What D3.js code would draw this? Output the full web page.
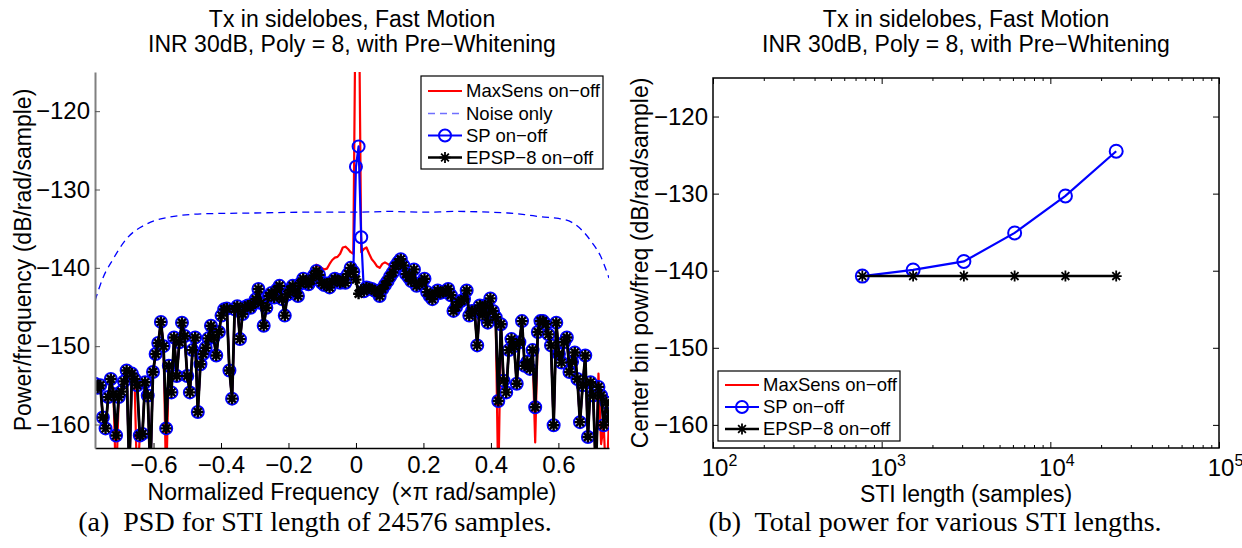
<!DOCTYPE html>
<html>
<head>
<meta charset="utf-8">
<script src="https://cdn.jsdelivr.net/npm/d3@7"></script>
<style>
  body { margin: 0; background: #fff; }
  svg { background: #fff; }
  text { font-family: "Liberation Sans", Arial, sans-serif; fill: #000; white-space: pre; }
  .caption { font-family: "Liberation Serif", "Times New Roman", serif; }
</style>
</head>
<body>
<div id="chart"></div>
<script>
// ---- panel (a): PSD, 256-point grid, bins -99 .. 96 shown ----
var nfft = 256;
var psdFirstBin = -99;

var maxSensPsd = [
  -154.8, -155.3, -155.0, -159.1, -160.5, -156.5, -154.2, -156.1, -168.0, -156.5,
  -155.8, -154.5, -153.1, -166.0, -153.5, -154.2, -168.0, -161.4, -161.2, -154.6,
  -156.3, -166.0, -153.3, -151.0, -149.6, -146.9, -150.0, -168.0, -152.5, -155.9,
  -148.9, -153.8, -149.5, -147.0, -148.7, -153.8, -155.9, -150.5, -148.9, -158.4,
  -152.3, -151.0, -150.2, -149.0, -147.4, -148.9, -151.2, -148.2, -146.1, -145.3,
  -145.2, -153.1, -156.7, -145.3, -144.9, -149.1, -145.9, -145.0, -144.8, -145.1,
  -144.6, -144.0, -142.7, -144.5, -147.4, -145.1, -143.6, -143.2, -143.8, -142.8,
  -142.3, -144.0, -146.1, -143.4, -142.8, -142.3, -143.0, -143.6, -142.0, -141.4,
  -141.8, -142.1, -141.6, -141.0, -139.6, -139.8, -140.0, -140.2, -140.1, -139.5,
  -139.0, -138.7, -138.6, -138.2, -137.4, -137.3, -137.6, -138.0, -138.2, -100.0,
  -100.0, -138.0, -137.6, -137.4, -138.2, -138.9, -139.3, -139.8, -140.0, -139.5,
  -139.3, -139.5, -139.7, -140.2, -139.8, -139.3, -138.9, -139.7, -140.8, -141.2,
  -141.7, -140.2, -142.3, -142.0, -141.9, -141.4, -143.1, -143.6, -144.0, -143.3,
  -142.9, -143.2, -143.1, -143.0, -142.7, -143.5, -145.5, -145.0, -144.4, -144.2,
  -144.0, -142.9, -146.1, -145.5, -145.5, -149.9, -144.8, -146.0, -144.8, -147.0,
  -143.9, -145.5, -146.3, -168.0, -147.2, -154.4, -155.9, -150.5, -149.1, -150.0,
  -154.8, -149.5, -146.8, -152.5, -152.0, -152.9, -150.5, -162.3, -148.2, -146.8,
  -146.8, -147.2, -148.5, -149.9, -160.1, -147.0, -151.0, -152.1, -149.5, -148.9,
  -153.3, -152.0, -150.8, -154.2, -159.7, -155.0, -151.2, -161.6, -154.6, -156.3,
  -166.0, -153.5, -162.5, -160.1, -168.0, -159.3
];

var spPsd = [
  -154.8, -155.3, -155.0, -159.1, -160.5, -156.5, -154.2, -156.1, -161.4, -156.5,
  -155.8, -154.5, -153.1, -166.0, -153.5, -154.2, -155.0, -161.4, -161.2, -154.6,
  -156.3, -166.0, -153.3, -151.0, -149.6, -146.9, -150.0, -160.5, -152.5, -155.9,
  -148.9, -153.8, -149.5, -147.0, -148.7, -153.8, -155.9, -150.5, -148.9, -158.4,
  -152.3, -151.0, -150.2, -149.0, -147.4, -148.9, -151.2, -148.2, -146.1, -145.3,
  -145.2, -153.1, -156.7, -145.3, -144.9, -149.1, -145.9, -145.0, -144.8, -145.1,
  -144.6, -144.0, -142.7, -144.5, -147.4, -145.1, -143.6, -143.2, -143.8, -142.8,
  -142.3, -144.0, -146.1, -143.4, -142.8, -142.3, -143.0, -143.6, -142.0, -141.4,
  -141.8, -142.1, -141.6, -141.0, -140.4, -140.9, -141.9, -142.2, -142.0, -142.5,
  -141.8, -141.4, -141.6, -141.9, -141.5, -141.9, -140.8, -140.0, -140.5, -127.1,
  -124.5, -136.1, -143.0, -142.5, -142.6, -142.7, -142.9, -143.1, -143.6, -142.7,
  -142.2, -141.7, -141.1, -140.6, -139.8, -139.3, -138.9, -139.7, -140.8, -141.2,
  -141.7, -140.2, -142.3, -142.0, -141.9, -141.4, -143.1, -143.6, -144.0, -143.3,
  -142.9, -143.2, -143.1, -143.0, -142.7, -143.5, -145.5, -145.0, -144.4, -144.2,
  -144.0, -142.9, -146.1, -145.5, -145.5, -149.9, -144.8, -146.0, -144.8, -147.0,
  -143.9, -145.5, -146.3, -157.0, -147.2, -154.4, -155.9, -150.5, -149.1, -150.0,
  -154.8, -149.5, -146.8, -152.5, -152.0, -152.9, -150.5, -157.8, -148.2, -146.8,
  -146.8, -147.2, -148.5, -149.9, -160.1, -147.0, -151.0, -152.1, -149.5, -148.9,
  -153.3, -152.0, -150.8, -154.2, -159.7, -155.0, -151.2, -161.6, -154.6, -156.3,
  -166.0, -155.2, -156.3, -160.1, -157.2, -159.3
];

var epspPsd = [
  -154.8, -155.3, -155.0, -159.1, -160.5, -156.5, -154.2, -156.1, -161.4, -156.5,
  -155.8, -154.5, -153.1, -166.0, -153.5, -154.2, -155.0, -161.4, -161.2, -154.6,
  -156.3, -166.0, -153.3, -151.0, -149.6, -146.9, -150.0, -160.5, -152.5, -155.9,
  -148.9, -153.8, -149.5, -147.0, -148.7, -153.8, -155.9, -150.5, -148.9, -158.4,
  -152.3, -151.0, -150.2, -149.0, -147.4, -148.9, -151.2, -148.2, -146.1, -145.3,
  -145.2, -153.1, -156.7, -145.3, -144.9, -149.1, -145.9, -145.0, -144.8, -145.1,
  -144.6, -144.0, -142.7, -144.5, -147.4, -145.1, -143.6, -143.2, -143.8, -142.8,
  -142.3, -144.0, -146.1, -143.4, -142.8, -142.3, -143.0, -143.6, -142.0, -141.4,
  -141.8, -142.1, -141.6, -141.0, -140.4, -140.9, -141.9, -142.2, -142.0, -142.5,
  -141.8, -141.4, -141.6, -141.9, -141.5, -141.9, -140.8, -140.0, -140.5, -141.5,
  -143.3, -142.8, -143.0, -142.5, -142.6, -142.7, -142.9, -143.1, -143.6, -142.7,
  -142.2, -141.7, -141.1, -140.6, -139.8, -139.3, -138.9, -139.7, -140.8, -141.2,
  -141.7, -140.2, -142.3, -142.0, -141.9, -141.4, -143.1, -143.6, -144.0, -143.3,
  -142.9, -143.2, -143.1, -143.0, -142.7, -143.5, -145.5, -145.0, -144.4, -144.2,
  -144.0, -142.9, -146.1, -145.5, -145.5, -149.9, -144.8, -146.0, -144.8, -147.0,
  -143.9, -145.5, -146.3, -157.0, -147.2, -154.4, -155.9, -150.5, -149.1, -150.0,
  -154.8, -149.5, -146.8, -152.5, -152.0, -152.9, -150.5, -157.8, -148.2, -146.8,
  -146.8, -147.2, -148.5, -149.9, -160.1, -147.0, -151.0, -152.1, -149.5, -148.9,
  -153.3, -152.0, -150.8, -154.2, -159.7, -155.0, -151.2, -161.6, -154.6, -156.3,
  -166.0, -155.2, -156.3, -160.1, -157.2, -159.3
];

var noiseFreq = [-0.7734, -0.75, -0.72, -0.68, -0.62, -0.55, -0.45, -0.3, -0.15, 0, 0.1, 0.2, 0.3, 0.4, 0.45, 0.5, 0.55, 0.6, 0.64, 0.67, 0.7, 0.725, 0.75];
var noiseLevel = [-144.2, -141.3, -138.9, -136.3, -134.4, -133.5, -133.1, -133.0, -132.9, -132.9, -132.8, -132.9, -132.8, -132.9, -133.0, -133.2, -133.5, -133.7, -134.2, -135.2, -136.8, -138.5, -141.3];

var psdFreqTicks = [-0.6, -0.4, -0.2, 0, 0.2, 0.4, 0.6];
var powerTicks = [-160, -150, -140, -130, -120];

// ---- panel (b): centre bin power vs STI length ----
var stiLengths = [768, 1536, 3072, 6144, 12288, 24576];
var spCenter = [-140.7, -139.9, -138.8, -135.1, -130.3, -124.5];
var epspCenter = [-140.7, -140.7, -140.7, -140.7, -140.7, -140.7];
var stiDecades = [1e2, 1e3, 1e4, 1e5];

var legendNames = ['MaxSens on\u2212off', 'Noise only', 'SP on\u2212off', 'EPSP\u22128 on\u2212off'];
var titleLines = ['Tx in sidelobes, Fast Motion', 'INR 30dB, Poly = 8, with Pre\u2212Whitening'];

var width = 1242,
    height = 548;

var svg = d3.select('#chart')
    .append('svg')
    .attr('width', width)
    .attr('height', height);

var defs = svg.append('defs');

function minus(v) {
    return String(v).replace('-', '\u2212');
}

// matlab '*' marker: plus + cross
function starPath(s) {
    var h = s / 2, d = h * 0.7071;
    return 'M' + (-h) + ',0L' + h + ',0M0,' + (-h) + 'L0,' + h +
        'M' + (-d) + ',' + (-d) + 'L' + d + ',' + d +
        'M' + (-d) + ',' + d + 'L' + d + ',' + (-d);
}

var fontSize = 23,
    tickFont = 24;

function pairs(xs, ys) {
    return xs.map(function (x, i) { return [x, ys[i]]; });
}

// ================= panel (a) =================
var A = { left: 95, right: 609, top: 72, bottom: 448 };

var psdFreq = spPsd.map(function (v, i) { return (psdFirstBin + i) * 2 / nfft; });

var xA = d3.scaleLinear().domain(d3.extent(psdFreq)).range([A.left, A.right]);
var yA = d3.scaleLinear().domain([-163, -115]).range([A.bottom, A.top]);

defs.append('clipPath').attr('id', 'clipA')
    .append('rect')
    .attr('x', A.left).attr('y', A.top)
    .attr('width', A.right - A.left).attr('height', A.bottom - A.top);

var gA = svg.append('g').attr('clip-path', 'url(#clipA)');

var lineA = d3.line()
    .x(function (d) { return xA(d[0]); })
    .y(function (d) { return yA(d[1]); });

gA.append('path')
    .attr('d', lineA(pairs(psdFreq, maxSensPsd)))
    .attr('fill', 'none').attr('stroke', '#ff0000').attr('stroke-width', 2.2)
    .attr('stroke-linejoin', 'round');

gA.append('path')
    .attr('d', lineA.curve(d3.curveMonotoneX)(pairs(noiseFreq, noiseLevel)))
    .attr('fill', 'none').attr('stroke', '#0000ff').attr('stroke-width', 1.3)
    .attr('stroke-dasharray', '7,5');
lineA.curve(d3.curveLinear);

gA.append('path')
    .attr('d', lineA(pairs(psdFreq, spPsd)))
    .attr('fill', 'none').attr('stroke', '#0000ff').attr('stroke-width', 2.2)
    .attr('stroke-linejoin', 'round');

gA.selectAll('.sp-mark')
    .data(pairs(psdFreq, spPsd))
    .enter()
    .append('circle')
    .attr('class', 'sp-mark')
    .attr('cx', function (d) { return xA(d[0]); })
    .attr('cy', function (d) { return yA(d[1]); })
    .attr('r', 6)
    .attr('fill', 'none').attr('stroke', '#0000ff').attr('stroke-width', 2);

gA.append('path')
    .attr('d', lineA(pairs(psdFreq, epspPsd)))
    .attr('fill', 'none').attr('stroke', '#000').attr('stroke-width', 2.8)
    .attr('stroke-linejoin', 'round');

gA.selectAll('.epsp-mark')
    .data(pairs(psdFreq, epspPsd))
    .enter()
    .append('path')
    .attr('class', 'epsp-mark')
    .attr('transform', function (d) { return 'translate(' + xA(d[0]) + ',' + yA(d[1]) + ')'; })
    .attr('d', starPath(11))
    .attr('stroke', '#000').attr('stroke-width', 2.4);

// axes (a): only left and bottom, ticks inward
var axA_b = svg.append('g')
    .attr('transform', 'translate(0,' + A.bottom + ')')
    .call(d3.axisBottom(xA)
        .tickValues(psdFreqTicks)
        .tickSizeInner(-5).tickSizeOuter(0).tickPadding(8)
        .tickFormat(function (d) { return d === 0 ? '0' : minus(d3.format('.1f')(d)); }));
axA_b.select('.domain').attr('stroke', '#000').attr('stroke-width', 1.6);
axA_b.selectAll('.tick line').attr('stroke', '#000').attr('stroke-width', 1);
axA_b.selectAll('text').attr('font-size', tickFont).attr('font-family', null);

var axA_l = svg.append('g')
    .attr('transform', 'translate(' + A.left + ',0)')
    .call(d3.axisLeft(yA)
        .tickValues(powerTicks)
        .tickSizeInner(-5).tickSizeOuter(0).tickPadding(5)
        .tickFormat(function (d) { return minus(d); }));
axA_l.select('.domain').attr('stroke', '#808080').attr('stroke-width', 2);
axA_l.selectAll('.tick line').attr('stroke', '#555').attr('stroke-width', 1);
axA_l.selectAll('text').attr('font-size', tickFont).attr('font-family', null);

var cxA = (A.left + A.right) / 2;
svg.selectAll('.title-a')
    .data(titleLines)
    .enter()
    .append('text')
    .attr('class', 'title-a')
    .attr('x', cxA)
    .attr('y', function (d, i) { return 27 + i * 25; })
    .attr('text-anchor', 'middle')
    .attr('font-size', fontSize)
    .text(function (d) { return d; });

svg.append('text')
    .attr('x', cxA).attr('y', 500)
    .attr('text-anchor', 'middle').attr('font-size', fontSize)
    .text('Normalized Frequency  (\u00d7\u03c0 rad/sample)');

svg.append('text')
    .attr('transform', 'translate(31,' + ((A.top + A.bottom) / 2) + ') rotate(-90)')
    .attr('text-anchor', 'middle').attr('font-size', fontSize)
    .text('Power/frequency (dB/rad/sample)');

// legend (a)
var legA = svg.append('g').attr('transform', 'translate(421,76)');
legA.append('rect')
    .attr('width', 182).attr('height', 93)
    .attr('fill', '#fff').attr('stroke', '#000').attr('stroke-width', 1.2);

function legendRow(g, y, name, kind) {
    var line = g.append('line')
        .attr('x1', 7).attr('x2', 41).attr('y1', y).attr('y2', y)
        .attr('stroke-width', 2.2);
    if (kind === 'red') line.attr('stroke', '#ff0000');
    if (kind === 'noise') line.attr('stroke', '#7070ff').attr('stroke-width', 1.3).attr('stroke-dasharray', '7,5');
    if (kind === 'sp') {
        line.attr('stroke', '#0000ff');
        g.append('circle').attr('cx', 24).attr('cy', y).attr('r', 6)
            .attr('fill', 'none').attr('stroke', '#0000ff').attr('stroke-width', 2);
    }
    if (kind === 'epsp') {
        line.attr('stroke', '#000').attr('stroke-width', 2.5);
        g.append('path').attr('transform', 'translate(24,' + y + ')')
            .attr('d', starPath(11)).attr('stroke', '#000').attr('stroke-width', 1.8);
    }
    g.append('text')
        .attr('x', 45).attr('y', y).attr('dy', '0.35em')
        .attr('font-size', 18.5)
        .text(name);
}

legendRow(legA, 15, legendNames[0], 'red');
legendRow(legA, 37.5, legendNames[1], 'noise');
legendRow(legA, 59.5, legendNames[2], 'sp');
legendRow(legA, 81.5, legendNames[3], 'epsp');

svg.append('text')
    .attr('class', 'caption')
    .attr('x', 315).attr('y', 531)
    .attr('text-anchor', 'middle').attr('font-size', 28)
    .text('(a)  PSD for STI length of 24576 samples.');

// ================= panel (b) =================
var B = { left: 713, right: 1219, top: 78, bottom: 448 };

var xB = d3.scaleLog().domain([1e2, 1e5]).range([B.left, B.right]);
var yB = d3.scaleLinear().domain([-163, -115]).range([B.bottom, B.top]);

var minorB = xB.ticks().filter(function (d) { return stiDecades.indexOf(d) < 0; });

function styleAxis(g) {
    g.select('.domain').remove();
    g.selectAll('.tick line').attr('stroke', '#000').attr('stroke-width', 1);
    g.selectAll('text').attr('font-size', tickFont).attr('font-family', null);
}

// minor ticks bottom/top
styleAxis(svg.append('g')
    .attr('transform', 'translate(0,' + B.bottom + ')')
    .call(d3.axisBottom(xB).tickValues(minorB).tickSizeInner(-3).tickSizeOuter(0).tickFormat('')));
styleAxis(svg.append('g')
    .attr('transform', 'translate(0,' + B.top + ')')
    .call(d3.axisTop(xB).tickValues(minorB).tickSizeInner(-3).tickSizeOuter(0).tickFormat('')));

var axB_b = svg.append('g')
    .attr('transform', 'translate(0,' + B.bottom + ')')
    .call(d3.axisBottom(xB).tickValues(stiDecades).tickSizeInner(-6).tickSizeOuter(0).tickPadding(11)
        .tickFormat(function () { return ''; }));
styleAxis(axB_b);
axB_b.selectAll('.tick text').each(function (d) {
    var t = d3.select(this);
    t.append('tspan').text('10');
    t.append('tspan').attr('dy', -10).attr('font-size', 16).text(Math.round(Math.log10(d)));
    t.attr('dx', '0.25em');
});

styleAxis(svg.append('g')
    .attr('transform', 'translate(0,' + B.top + ')')
    .call(d3.axisTop(xB).tickValues(stiDecades).tickSizeInner(-6).tickSizeOuter(0).tickFormat('')));

styleAxis(svg.append('g')
    .attr('transform', 'translate(' + B.left + ',0)')
    .call(d3.axisLeft(yB).tickValues(powerTicks).tickSizeInner(-6).tickSizeOuter(0).tickPadding(5)
        .tickFormat(function (d) { return minus(d); })));

styleAxis(svg.append('g')
    .attr('transform', 'translate(' + B.right + ',0)')
    .call(d3.axisRight(yB).tickValues(powerTicks).tickSizeInner(-6).tickSizeOuter(0).tickFormat('')));

svg.append('rect')
    .attr('x', B.left).attr('y', B.top)
    .attr('width', B.right - B.left).attr('height', B.bottom - B.top)
    .attr('fill', 'none').attr('stroke', '#000').attr('stroke-width', 1.5);

var lineB = d3.line()
    .x(function (d) { return xB(d[0]); })
    .y(function (d) { return yB(d[1]); });

// MaxSens centre-bin values lie above the plotted range, only its legend entry shows
svg.append('path')
    .attr('d', lineB(pairs(stiLengths, spCenter)))
    .attr('fill', 'none').attr('stroke', '#0000ff').attr('stroke-width', 2.2);

svg.selectAll('.sp-b')
    .data(pairs(stiLengths, spCenter))
    .enter()
    .append('circle')
    .attr('class', 'sp-b')
    .attr('cx', function (d) { return xB(d[0]); })
    .attr('cy', function (d) { return yB(d[1]); })
    .attr('r', 6.5)
    .attr('fill', 'none').attr('stroke', '#0000ff').attr('stroke-width', 2);

svg.append('path')
    .attr('d', lineB(pairs(stiLengths, epspCenter)))
    .attr('fill', 'none').attr('stroke', '#000').attr('stroke-width', 2.5);

svg.selectAll('.epsp-b')
    .data(pairs(stiLengths, epspCenter))
    .enter()
    .append('path')
    .attr('class', 'epsp-b')
    .attr('transform', function (d) { return 'translate(' + xB(d[0]) + ',' + yB(d[1]) + ')'; })
    .attr('d', starPath(11))
    .attr('stroke', '#000').attr('stroke-width', 1.8);

var cxB = (B.left + B.right) / 2;
svg.selectAll('.title-b')
    .data(titleLines)
    .enter()
    .append('text')
    .attr('class', 'title-b')
    .attr('x', cxB)
    .attr('y', function (d, i) { return 27 + i * 25; })
    .attr('text-anchor', 'middle')
    .attr('font-size', fontSize)
    .text(function (d) { return d; });

svg.append('text')
    .attr('x', cxB).attr('y', 502)
    .attr('text-anchor', 'middle').attr('font-size', fontSize)
    .text('STI length (samples)');

svg.append('text')
    .attr('transform', 'translate(648,' + ((B.top + B.bottom) / 2) + ') rotate(-90)')
    .attr('text-anchor', 'middle').attr('font-size', fontSize)
    .text('Center bin pow/freq (dB/rad/sample)');

var legB = svg.append('g').attr('transform', 'translate(718,371)');
legB.append('rect')
    .attr('width', 182).attr('height', 70)
    .attr('fill', '#fff').attr('stroke', '#000').attr('stroke-width', 1.2);
legendRow(legB, 14, legendNames[0], 'red');
legendRow(legB, 36, legendNames[2], 'sp');
legendRow(legB, 58, legendNames[3], 'epsp');

svg.append('text')
    .attr('class', 'caption')
    .attr('x', 935).attr('y', 531)
    .attr('text-anchor', 'middle').attr('font-size', 28)
    .text('(b)  Total power for various STI lengths.');
</script>
</body>
</html>
